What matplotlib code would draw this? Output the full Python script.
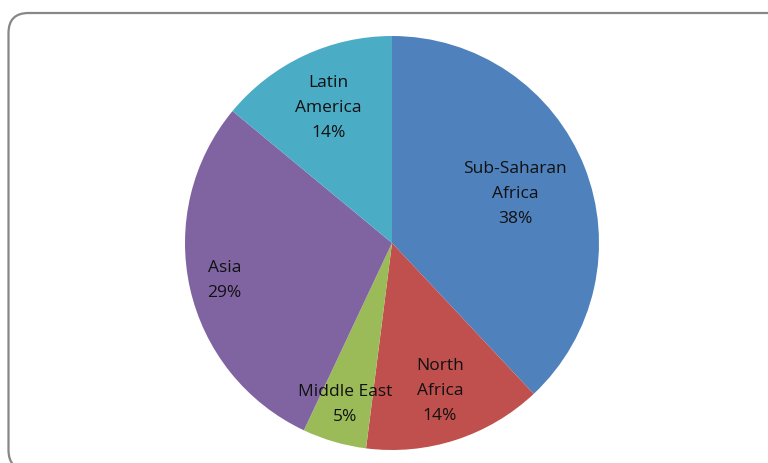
import matplotlib
matplotlib.use('Agg')
import matplotlib.pyplot as plt
from matplotlib.patches import FancyBboxPatch
import numpy as np

regions = ['Sub-Saharan\nAfrica', 'North\nAfrica', 'Middle East', 'Asia', 'Latin\nAmerica']
shares = [38, 14, 5, 29, 14]
colors = ['#4F81BD', '#C0504D', '#9BBB59', '#8064A2', '#4BACC6']
# how far out each label sits (fraction of radius), like excel's best fit
label_dist = [0.64, 0.75, 0.81, 0.83, 0.72]

W, H = 768, 463
fig = plt.figure(figsize=(W / 100, H / 100), dpi=100)

# rounded chart border (in inches), runs off the right and bottom edges
border = FancyBboxPatch((0.085, -0.07), 7.80, 4.57,
                        boxstyle='round,pad=0,rounding_size=0.2',
                        transform=fig.dpi_scale_trans, facecolor='none',
                        edgecolor='#878787', linewidth=1.6, zorder=-1)
fig.patches.append(border)

cx, cy, r = 392, 243, 207
ax = fig.add_axes([(cx - r) / W, (H - cy - r) / H, 2 * r / W, 2 * r / H])

wedges, _ = ax.pie(shares, colors=colors, startangle=90, counterclock=False,
                   radius=1, wedgeprops=dict(linewidth=0))
ax.set_xlim(-1, 1)
ax.set_ylim(-1, 1)
ax.set_aspect('equal')
ax.axis('off')

for w, name, val, d in zip(wedges, regions, shares, label_dist):
    ang = np.deg2rad((w.theta1 + w.theta2) / 2)
    ax.text(d * np.cos(ang), d * np.sin(ang), '{}\n{}%'.format(name, val),
            ha='center', va='center', fontsize=12.5, color='#111111',
            family='Open Sans', linespacing=1.75)

fig.savefig('out.png', dpi=100)
